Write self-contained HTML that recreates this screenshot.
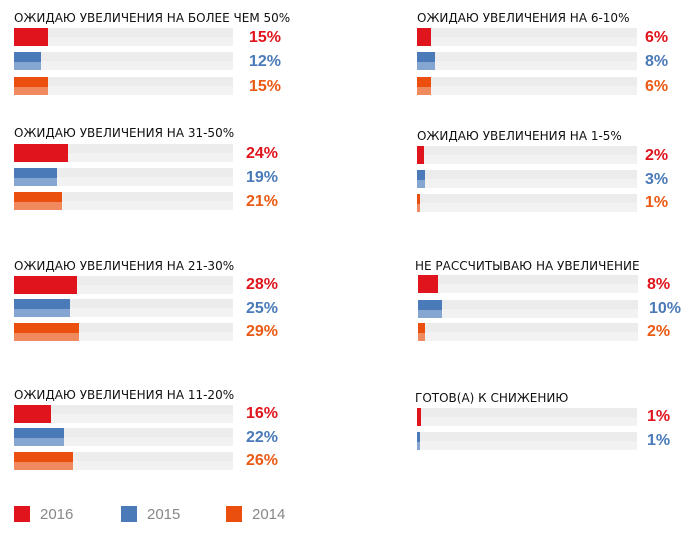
<!DOCTYPE html>
<html><head><meta charset="utf-8"><style>
body{margin:0;width:688px;height:535px;background:#fff;position:relative;overflow:hidden;font-family:"DejaVu Sans","Liberation Sans",sans-serif}
.t{position:absolute;font-size:12px;color:#111;white-space:nowrap;line-height:14px}
.tr{position:absolute;height:18px;background:linear-gradient(#ececec 50%,#f2f2f2 50%)}
.b{position:absolute;left:0;top:0;height:18px}
.r{background:#e0141c}
.u{background:linear-gradient(#4a7ab8 55%,#86a6d2 55%)}
.o{background:linear-gradient(#ea4f0f 55%,#f08a5e 55%)}
.p{position:absolute;font-family:"Liberation Sans",sans-serif;font-weight:bold;font-size:16px;line-height:18px}
.pr{color:#e0141c}.pu{color:#4a7ab8}.po{color:#ea5a14}
.lg{position:absolute;top:506px;width:16px;height:16px}
.lt{position:absolute;top:506px;font-family:"Liberation Sans",sans-serif;font-size:15px;color:#888;line-height:18px}
</style></head><body>
<div class="t" style="left:14px;top:11px">ОЖИДАЮ УВЕЛИЧЕНИЯ НА БОЛЕЕ ЧЕМ 50%</div>
<div class="tr" style="left:14px;top:28px;width:219px"><div class="b r" style="width:34px"></div></div>
<div class="tr" style="left:14px;top:52px;width:219px"><div class="b u" style="width:27px"></div></div>
<div class="tr" style="left:14px;top:77px;width:219px"><div class="b o" style="width:34px"></div></div>
<div class="p pr" style="left:249px;top:29px">15%</div>
<div class="p pu" style="left:249px;top:53px">12%</div>
<div class="p po" style="left:249px;top:78px">15%</div>

<div class="t" style="left:14px;top:126px">ОЖИДАЮ УВЕЛИЧЕНИЯ НА 31-50%</div>
<div class="tr" style="left:14px;top:144px;width:219px"><div class="b r" style="width:54px"></div></div>
<div class="tr" style="left:14px;top:168px;width:219px"><div class="b u" style="width:43px"></div></div>
<div class="tr" style="left:14px;top:192px;width:219px"><div class="b o" style="width:48px"></div></div>
<div class="p pr" style="left:246px;top:145px">24%</div>
<div class="p pu" style="left:246px;top:169px">19%</div>
<div class="p po" style="left:246px;top:193px">21%</div>

<div class="t" style="left:14px;top:259px">ОЖИДАЮ УВЕЛИЧЕНИЯ НА 21-30%</div>
<div class="tr" style="left:14px;top:276px;width:219px"><div class="b r" style="width:63px"></div></div>
<div class="tr" style="left:14px;top:299px;width:219px"><div class="b u" style="width:56px"></div></div>
<div class="tr" style="left:14px;top:323px;width:219px"><div class="b o" style="width:65px"></div></div>
<div class="p pr" style="left:246px;top:276px">28%</div>
<div class="p pu" style="left:246px;top:300px">25%</div>
<div class="p po" style="left:246px;top:323px">29%</div>

<div class="t" style="left:14px;top:388px">ОЖИДАЮ УВЕЛИЧЕНИЯ НА 11-20%</div>
<div class="tr" style="left:14px;top:405px;width:219px"><div class="b r" style="width:37px"></div></div>
<div class="tr" style="left:14px;top:428px;width:219px"><div class="b u" style="width:50px"></div></div>
<div class="tr" style="left:14px;top:452px;width:219px"><div class="b o" style="width:59px"></div></div>
<div class="p pr" style="left:246px;top:405px">16%</div>
<div class="p pu" style="left:246px;top:429px">22%</div>
<div class="p po" style="left:246px;top:452px">26%</div>

<div class="t" style="left:417px;top:11px">ОЖИДАЮ УВЕЛИЧЕНИЯ НА 6-10%</div>
<div class="tr" style="left:417px;top:28px;width:220px"><div class="b r" style="width:14px"></div></div>
<div class="tr" style="left:417px;top:52px;width:220px"><div class="b u" style="width:18px"></div></div>
<div class="tr" style="left:417px;top:77px;width:220px"><div class="b o" style="width:14px"></div></div>
<div class="p pr" style="left:645px;top:29px">6%</div>
<div class="p pu" style="left:645px;top:53px">8%</div>
<div class="p po" style="left:645px;top:78px">6%</div>

<div class="t" style="left:417px;top:129px">ОЖИДАЮ УВЕЛИЧЕНИЯ НА 1-5%</div>
<div class="tr" style="left:417px;top:146px;width:220px"><div class="b r" style="width:7px"></div></div>
<div class="tr" style="left:417px;top:170px;width:220px"><div class="b u" style="width:8px"></div></div>
<div class="tr" style="left:417px;top:194px;width:220px"><div class="b o" style="width:3px"></div></div>
<div class="p pr" style="left:645px;top:147px">2%</div>
<div class="p pu" style="left:645px;top:171px">3%</div>
<div class="p po" style="left:645px;top:194px">1%</div>

<div class="t" style="left:415px;top:259px">НЕ РАССЧИТЫВАЮ НА УВЕЛИЧЕНИЕ</div>
<div class="tr" style="left:418px;top:275px;width:220px"><div class="b r" style="width:20px"></div></div>
<div class="tr" style="left:418px;top:300px;width:220px"><div class="b u" style="width:24px"></div></div>
<div class="tr" style="left:418px;top:323px;width:220px"><div class="b o" style="width:7px"></div></div>
<div class="p pr" style="left:647px;top:276px">8%</div>
<div class="p pu" style="left:649px;top:300px">10%</div>
<div class="p po" style="left:647px;top:323px">2%</div>

<div class="t" style="left:415px;top:391px">ГОТОВ(А) К СНИЖЕНИЮ</div>
<div class="tr" style="left:417px;top:408px;width:220px"><div class="b r" style="width:4px"></div></div>
<div class="tr" style="left:417px;top:432px;width:220px"><div class="b u" style="width:3px"></div></div>
<div class="p pr" style="left:647px;top:408px">1%</div>
<div class="p pu" style="left:647px;top:432px">1%</div>

<div class="lg" style="left:14px;background:#e0141c"></div>
<div class="lt" style="left:40px">2016</div>
<div class="lg" style="left:121px;background:#4a7ab8"></div>
<div class="lt" style="left:147px">2015</div>
<div class="lg" style="left:226px;background:#ea4f0f"></div>
<div class="lt" style="left:252px">2014</div>
</body></html>
